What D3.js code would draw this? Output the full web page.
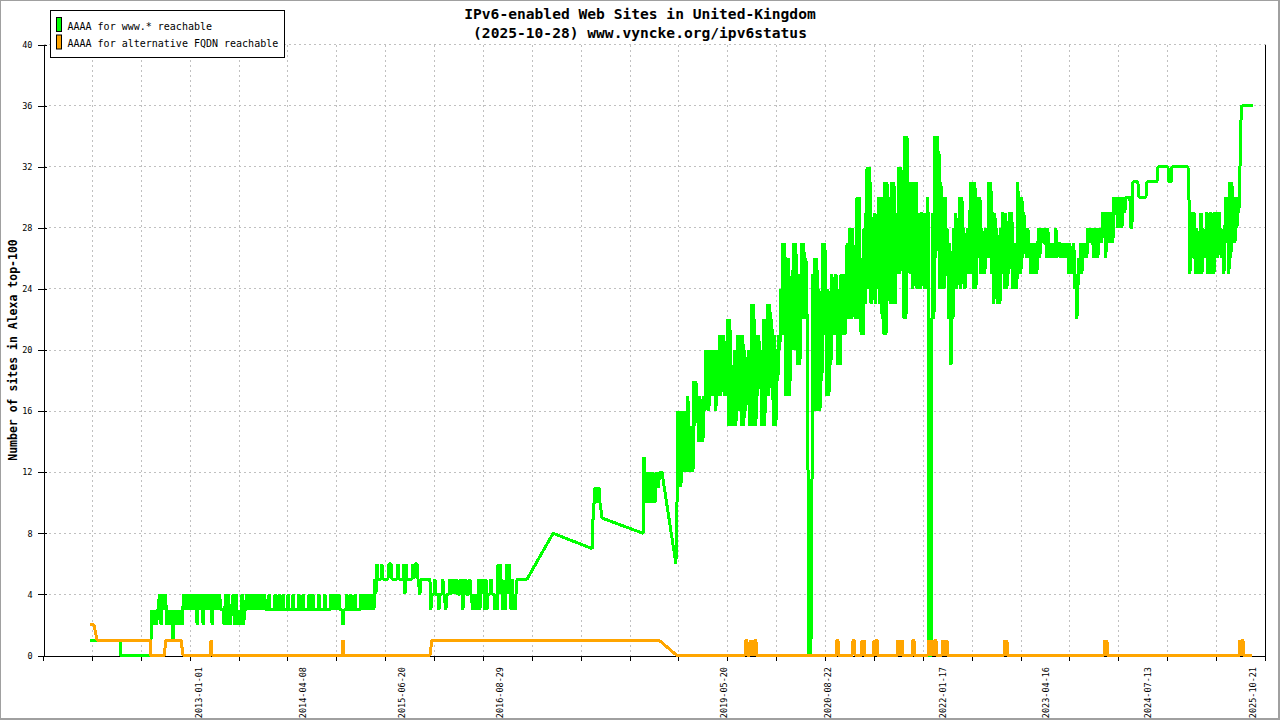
<!DOCTYPE html>
<html>
<head>
<meta charset="utf-8">
<script src="https://cdn.jsdelivr.net/npm/d3@7"></script>
<style>
body { margin: 0; background: #fff; }
svg { display: block; font-family: "DejaVu Sans Mono", monospace; }
</style>
</head>
<body>
<div id="chart"></div>
<script>
// values; dates are decimal years
var titleLines = ["IPv6-enabled Web Sites in United-Kingdom", "(2025-10-28) www.vyncke.org/ipv6status"];
var yTitle = "Number of sites in Alexa top-100";
var seriesNames = ["AAAA for www.* reachable", "AAAA for alternative FQDN reachable"];
var seriesColors = ["#00ff00", "#ffa500"];
var yTickValues = [0, 4, 8, 12, 16, 20, 24, 28, 32, 36, 40];
var dateLabels = ["2013-01-01", "2014-04-08", "2015-06-20", "2016-08-29", "2019-05-20",
                  "2020-08-22", "2022-01-17", "2023-04-16", "2024-07-13", "2025-10-21"];
var xStartYear = 2011.124, xEndYear = 2025.963, xTickCount = 26;

var wwwSites = [
  [2011.689,1],[2012.053,1],[2012.065,0],[2012.417,0],
  [2012.429,1],[2012.441,3],[2012.459,2],[2012.478,3],[2012.496,2],[2012.514,3],[2012.532,4],[2012.551,2],[2012.569,4],[2012.587,3],
  [2012.605,4],[2012.623,2],[2012.642,3],[2012.660,2],[2012.678,3],[2012.696,1],[2012.715,3],[2012.733,2],[2012.751,3],[2012.769,2],
  [2012.787,3],[2012.806,2],
  [2012.824,4],[2012.842,3],[2012.860,4],[2012.879,3],[2012.897,4],[2012.915,3],[2012.933,4],[2012.951,3],[2012.970,4],[2012.988,2],
  [2013.006,4],[2013.024,3],[2013.042,4],[2013.061,2],[2013.079,4],[2013.097,3],[2013.115,4],[2013.133,3],[2013.152,4],[2013.170,2],
  [2013.188,4],[2013.206,3],[2013.225,4],[2013.243,3],[2013.261,4],[2013.279,3],[2013.303,3],[2013.316,2],[2013.334,4],[2013.352,2],
  [2013.370,4],[2013.389,2],[2013.407,3],[2013.425,4],[2013.443,2],[2013.461,4],[2013.480,2],[2013.498,3],[2013.516,2],[2013.534,4],
  [2013.552,2],[2013.571,3],
  [2013.589,4],[2013.607,3],[2013.625,4],[2013.644,3],[2013.662,4],[2013.680,3],[2013.698,4],[2013.716,3],[2013.735,4],[2013.753,3],
  [2013.771,4],[2013.789,3],[2013.807,4],[2013.826,3],
  [2013.850,3],[2013.862,4],[2013.874,3],[2013.923,3],[2013.935,4],[2013.947,3],[2013.971,3],[2013.984,4],[2013.996,3],
  [2014.020,3],[2014.032,4],[2014.044,3],[2014.081,3],[2014.093,4],[2014.105,3],[2014.142,3],[2014.154,4],[2014.166,3],
  [2014.214,3],[2014.226,4],[2014.239,3],[2014.263,3],[2014.275,4],[2014.287,3],[2014.336,3],[2014.348,4],[2014.360,3],
  [2014.384,3],[2014.396,4],[2014.409,3],[2014.457,3],[2014.469,4],[2014.481,3],[2014.530,3],[2014.542,4],[2014.554,3],
  [2014.603,3],[2014.615,4],[2014.627,3],[2014.639,4],[2014.651,3],[2014.664,4],[2014.676,3],[2014.688,4],[2014.700,3],[2014.712,4],
  [2014.724,3],[2014.749,3],[2014.761,2],[2014.773,3],[2014.797,3],[2014.809,4],[2014.822,3],[2014.846,3],[2014.858,4],[2014.870,3],
  [2014.894,3],[2014.907,4],[2014.919,3],[2014.967,3],[2014.979,4],[2014.992,3],
  [2015.010,4],[2015.028,3],[2015.046,4],[2015.064,3],[2015.083,4],[2015.101,3],[2015.119,4],[2015.137,3],[2015.149,5],[2015.161,4],
  [2015.174,6],[2015.186,5],
  [2015.198,5],[2015.222,5],[2015.234,6],[2015.247,5],[2015.307,5],[2015.319,6],[2015.344,6],[2015.356,5],[2015.417,5],[2015.429,6],
  [2015.441,5],[2015.490,5],[2015.502,6],[2015.514,4],[2015.526,6],[2015.538,5],[2015.599,5],[2015.611,6],[2015.623,5],[2015.635,6],
  [2015.660,6],[2015.672,5],[2015.696,4],[2015.708,5],[2015.817,5],
  [2015.829,3],[2015.841,4],[2015.866,4],[2015.878,5],[2015.890,4],[2015.914,4],[2015.927,3],[2015.939,4],[2015.963,4],[2015.975,5],
  [2015.987,4],[2016.011,3],[2016.024,4],[2016.048,4],[2016.060,5],[2016.072,4],[2016.096,5],[2016.109,4],[2016.121,5],[2016.133,4],
  [2016.145,5],[2016.157,4],[2016.181,4],[2016.194,5],[2016.206,4],[2016.218,3],[2016.230,5],[2016.242,4],[2016.254,5],[2016.266,4],
  [2016.291,4],[2016.303,5],[2016.315,4],[2016.339,3],[2016.351,4],[2016.364,3],[2016.376,4],[2016.388,3],[2016.400,4],[2016.412,5],
  [2016.424,3],[2016.436,5],[2016.449,4],[2016.461,5],[2016.473,4],[2016.485,3],[2016.497,5],[2016.509,3],[2016.521,4],[2016.546,4],
  [2016.558,5],[2016.570,4],[2016.594,4],[2016.606,3],[2016.618,4],[2016.631,3],[2016.643,6],[2016.655,4],[2016.667,6],[2016.679,4],
  [2016.691,5],[2016.703,3],[2016.716,4],[2016.728,3],[2016.740,5],[2016.752,6],[2016.764,4],[2016.776,6],[2016.789,4],[2016.801,3],
  [2016.813,5],[2016.825,3],[2016.837,4],[2016.849,3],[2016.861,4],[2016.874,5],[2016.995,5],
  [2017.311,8],[2017.784,7],[2017.797,9],[2017.809,10],[2017.821,11],[2017.833,10],[2017.845,11],[2017.857,10],[2017.869,11],
  [2017.881,10],[2017.906,9],[2018.404,8],
  [2018.416,13],[2018.428,10],[2018.440,12],[2018.452,10],[2018.464,12],[2018.477,11],[2018.489,10],[2018.501,12],[2018.513,10],
  [2018.525,12],[2018.537,11],[2018.549,10],[2018.561,11],[2018.574,12],[2018.586,11],[2018.610,12],[2018.634,12],[2018.804,6],
  [2018.817,10],[2018.829,16],[2018.841,12],[2018.853,16],[2018.865,11],[2018.877,16],[2018.890,12],[2018.902,16],[2018.914,12],
  [2018.926,15],[2018.938,12],[2018.950,17],[2018.962,12],[2018.974,15],[2018.987,12],[2018.999,15],[2019.011,12],[2019.023,18],
  [2019.035,15],[2019.047,18],[2019.059,16],[2019.072,17],[2019.084,14],[2019.096,17],[2019.108,14],[2019.120,16],[2019.132,14],
  [2019.144,17],[2019.157,16],[2019.169,20],[2019.181,17],[2019.193,20],[2019.205,16],[2019.217,20],[2019.229,17],[2019.242,19],
  [2019.254,20],[2019.266,17],[2019.278,20],[2019.290,16],[2019.302,20],[2019.314,17],[2019.327,19],[2019.339,21],[2019.351,17],
  [2019.363,21],[2019.375,18],[2019.387,21],[2019.399,17],[2019.411,19],[2019.424,17],[2019.436,22],[2019.448,15],[2019.460,22],
  [2019.472,15],[2019.484,19],[2019.496,17],[2019.509,15],[2019.521,20],[2019.533,15],[2019.545,19],[2019.557,21],[2019.569,16],
  [2019.581,21],[2019.594,17],[2019.606,15],[2019.618,21],[2019.630,15],[2019.642,20],[2019.654,16],[2019.666,19],[2019.679,17],
  [2019.691,20],[2019.703,15],[2019.715,18],[2019.727,23],[2019.739,15],[2019.751,23],[2019.764,16],[2019.776,15],[2019.788,21],
  [2019.800,17],[2019.812,21],[2019.824,18],[2019.836,20],[2019.849,15],[2019.861,19],[2019.873,22],[2019.885,15],[2019.897,22],
  [2019.909,17],[2019.921,23],[2019.934,17],[2019.946,23],[2019.958,18],[2019.970,22],[2019.982,17],[2019.994,15],[2020.006,21],
  [2020.019,15],[2020.031,20],[2020.043,18],[2020.055,21],[2020.067,20],
  [2020.079,24],[2020.091,21],[2020.103,27],[2020.116,21],[2020.128,27],[2020.140,17],[2020.152,24],[2020.164,17],[2020.176,26],
  [2020.188,17],[2020.201,24],[2020.213,20],[2020.225,25],[2020.237,27],[2020.249,20],[2020.261,27],[2020.273,21],[2020.286,19],
  [2020.298,25],[2020.310,19],[2020.322,24],[2020.334,27],[2020.346,22],[2020.358,27],[2020.371,22],[2020.383,26],[2020.395,23],
  [2020.407,13],[2020.419,0],[2020.431,0],[2020.443,0],[2020.456,11],[2020.468,25],[2020.480,18],[2020.492,26],[2020.504,16],
  [2020.516,26],[2020.528,16],[2020.541,24],[2020.553,16],[2020.565,22],[2020.577,18],[2020.589,27],[2020.601,21],[2020.613,27],
  [2020.626,21],[2020.638,17],[2020.650,24],[2020.662,17],[2020.674,22],[2020.686,19],[2020.698,25],[2020.711,21],[2020.723,24],
  [2020.735,22],[2020.747,25],[2020.759,21],[2020.771,19],[2020.783,24],[2020.796,19],[2020.808,25],[2020.820,22],[2020.832,21],
  [2020.844,25],[2020.856,21],[2020.868,24],[2020.881,27],[2020.893,22],[2020.905,27],[2020.917,28],[2020.929,22],[2020.941,28],
  [2020.954,23],[2020.966,26],[2020.978,22],[2020.990,27],[2021.002,30],[2021.014,22],[2021.026,30],[2021.039,24],[2021.051,21],
  [2021.063,26],[2021.075,21],[2021.087,28],[2021.099,23],[2021.111,29],[2021.124,32],[2021.136,24],[2021.148,32],[2021.160,31],
  [2021.172,23],[2021.184,27],[2021.196,24],[2021.209,29],[2021.221,23],[2021.233,28],[2021.245,24],[2021.257,29],[2021.269,30],
  [2021.281,23],[2021.294,30],[2021.306,22],[2021.318,27],[2021.330,21],[2021.342,31],[2021.354,21],[2021.366,31],[2021.379,25],
  [2021.391,30],[2021.403,23],[2021.415,28],[2021.427,31],[2021.439,23],[2021.451,31],[2021.464,23],[2021.476,29],[2021.488,25],
  [2021.500,28],[2021.512,32],[2021.524,25],[2021.536,32],[2021.549,26],[2021.561,30],[2021.573,22],[2021.585,34],[2021.597,22],
  [2021.609,34],[2021.621,26],[2021.634,31],[2021.646,25],[2021.658,29],[2021.670,31],[2021.682,24],[2021.694,31],[2021.706,25],
  [2021.719,31],[2021.731,24],[2021.743,29],[2021.755,25],[2021.767,28],[2021.779,24],[2021.791,29],[2021.804,25],[2021.816,29],
  [2021.828,24],[2021.840,27],[2021.852,25],[2021.864,30],[2021.876,0],[2021.889,0],[2021.901,0],[2021.913,22],[2021.925,29],
  [2021.937,22],[2021.949,34],[2021.961,26],[2021.974,34],[2021.986,28],[2021.998,33],[2022.010,24],[2022.022,31],[2022.034,24],
  [2022.046,30],[2022.059,24],[2022.071,30],[2022.083,26],[2022.095,28],[2022.107,25],[2022.119,22],[2022.131,27],[2022.144,19],
  [2022.156,26],[2022.168,22],[2022.180,28],[2022.192,24],[2022.204,29],[2022.216,24],[2022.229,27],[2022.241,25],[2022.253,30],
  [2022.265,24],[2022.277,30],[2022.289,25],[2022.301,28],[2022.314,24],[2022.326,27],[2022.338,25],[2022.350,28],[2022.362,25],
  [2022.374,29],[2022.386,31],[2022.399,25],[2022.411,31],[2022.423,24],[2022.435,31],[2022.447,24],[2022.459,28],[2022.471,30],
  [2022.484,26],[2022.496,30],[2022.508,25],[2022.520,28],[2022.532,25],[2022.544,27],[2022.556,25],[2022.569,28],[2022.581,26],
  [2022.593,27],[2022.605,31],[2022.617,26],[2022.629,31],[2022.641,25],[2022.654,29],[2022.666,23],[2022.678,29],[2022.690,24],
  [2022.702,28],[2022.714,23],[2022.726,27],[2022.739,23],[2022.751,28],[2022.763,25],[2022.775,29],[2022.787,26],[2022.799,24],
  [2022.811,29],[2022.824,24],[2022.836,28],[2022.848,25],[2022.860,29],[2022.872,26],[2022.884,29],[2022.896,24],[2022.909,27],
  [2022.921,24],[2022.933,27],[2022.945,24],[2022.957,31],[2022.969,25],[2022.981,30],[2022.994,25],[2023.006,30],[2023.018,26],
  [2023.030,29],[2023.042,27],[2023.054,28],[2023.066,26],[2023.079,28],[2023.091,26],[2023.103,27],[2023.115,25],[2023.127,27],
  [2023.139,25],[2023.151,27],[2023.164,25],[2023.176,27],[2023.188,25],[2023.200,27],[2023.212,28],[2023.224,26],
  [2023.236,28],[2023.249,27],[2023.261,28],[2023.273,27],[2023.285,27],[2023.297,28],[2023.309,26],[2023.321,28],[2023.334,26],
  [2023.346,27],[2023.358,26],[2023.370,27],[2023.382,26],[2023.394,27],[2023.406,26],[2023.419,28],[2023.431,26],[2023.443,27],
  [2023.455,27],[2023.467,27],[2023.479,26],[2023.491,27],[2023.504,26],[2023.516,27],[2023.528,26],[2023.540,27],[2023.552,26],
  [2023.564,27],[2023.576,25],[2023.589,27],[2023.601,25],[2023.613,26],[2023.625,25],[2023.637,27],[2023.649,24],[2023.661,25],
  [2023.674,22],[2023.686,24],[2023.698,26],[2023.710,25],[2023.722,27],[2023.734,25],[2023.746,26],[2023.759,27],[2023.771,26],
  [2023.783,27],[2023.795,26],[2023.807,28],[2023.819,27],[2023.831,28],[2023.844,27],[2023.856,28],[2023.868,27],[2023.880,26],
  [2023.892,28],[2023.904,26],[2023.916,28],[2023.929,26],[2023.941,28],[2023.953,27],[2023.965,28],[2023.977,27],[2023.989,29],
  [2024.001,28],[2024.014,29],[2024.026,26],[2024.038,29],[2024.050,27],[2024.062,28],[2024.074,29],[2024.086,27],[2024.099,29],
  [2024.111,27],[2024.123,30],[2024.135,29],[2024.147,30],[2024.159,29],[2024.171,28],[2024.184,30],[2024.196,28],[2024.208,30],
  [2024.220,28],[2024.232,29],[2024.244,30],[2024.256,29],[2024.268,30],[2024.317,30],[2024.329,28],[2024.341,28],[2024.353,31],
  [2024.414,31],[2024.426,30],[2024.511,30],[2024.523,31],[2024.645,31],[2024.657,32],[2024.778,32],[2024.790,31],[2024.815,31],
  [2024.827,32],[2025.021,32],
  [2025.033,30],[2025.045,25],[2025.057,28],[2025.069,29],[2025.082,26],[2025.094,29],[2025.106,26],[2025.118,25],[2025.130,28],
  [2025.142,25],[2025.155,27],[2025.167,25],[2025.179,29],[2025.191,25],[2025.203,28],[2025.215,26],[2025.228,27],[2025.240,26],
  [2025.252,29],[2025.264,25],[2025.276,29],[2025.288,25],[2025.300,29],[2025.313,25],[2025.325,29],[2025.337,25],[2025.349,29],
  [2025.361,27],[2025.373,29],[2025.385,26],[2025.398,29],[2025.410,27],[2025.422,28],[2025.434,26],[2025.446,27],[2025.458,25],
  [2025.470,28],[2025.483,30],[2025.495,27],[2025.507,30],[2025.519,25],[2025.531,31],[2025.543,26],[2025.555,31],[2025.568,28],
  [2025.580,29],[2025.592,27],[2025.604,30],[2025.616,28],[2025.628,30],[2025.640,29],[2025.653,32],[2025.665,35],[2025.677,36],
  [2025.811,36]
];

var altSites = [
  [2011.689,2],[2011.737,2],[2011.774,1],[2012.417,1],[2012.429,0],[2012.587,0],[2012.611,1],[2012.793,1],[2012.818,0],
  [2013.146,0],[2013.158,1],[2013.170,0],[2014.749,0],[2014.761,1],[2014.773,0],[2015.817,0],[2015.841,1],[2018.598,1],
  [2018.817,0],
  [2019.642,0],[2019.654,1],[2019.666,1],[2019.679,0],
  [2019.703,0],[2019.715,1],[2019.727,0],[2019.739,1],[2019.751,0],[2019.764,1],[2019.776,1],[2019.788,0],
  [2020.747,0],[2020.759,1],[2020.771,1],[2020.783,0],
  [2020.941,0],[2020.954,1],[2020.966,1],[2020.978,0],
  [2021.051,0],[2021.063,1],[2021.075,0],[2021.087,1],[2021.099,0],
  [2021.197,0],[2021.209,1],[2021.221,0],[2021.233,1],[2021.245,1],[2021.257,0],
  [2021.488,0],[2021.500,1],[2021.512,0],[2021.524,1],[2021.536,0],[2021.549,1],[2021.561,0],
  [2021.670,0],[2021.682,1],[2021.694,1],[2021.706,0],
  [2021.864,0],[2021.876,1],[2021.889,0],[2021.901,1],[2021.913,0],[2021.925,1],[2021.937,0],[2021.949,1],[2021.961,1],[2021.973,0],
  [2022.034,0],[2022.046,1],[2022.059,0],[2022.071,1],[2022.083,0],[2022.095,1],[2022.107,0],
  [2022.787,0],[2022.799,1],[2022.811,0],[2022.823,1],[2022.836,0],
  [2024.002,0],[2024.014,1],[2024.026,0],[2024.038,1],[2024.050,0],
  [2025.641,0],[2025.653,1],[2025.665,0],[2025.677,1],[2025.689,1],[2025.701,0],
  [2025.798,0]
];

function fromYear(v) {
    var y0 = Math.floor(v);
    var a = Date.UTC(y0, 0, 1), b = Date.UTC(y0 + 1, 0, 1);
    return new Date(a + (v - y0) * (b - a));
}

var width = 1280, height = 720;
var plot = {left: 43.5, right: 1265.5, top: 44.5, bottom: 655.5};

var x = d3.scaleTime()
    .domain([fromYear(xStartYear), fromYear(xEndYear)])
    .range([plot.left, plot.right]);
var y = d3.scaleLinear()
    .domain([0, 40])
    .range([plot.bottom, plot.top]);

var xTicks = d3.range(xTickCount).map(function(i) {
    return fromYear(xStartYear + i * (xEndYear - xStartYear) / (xTickCount - 1));
});
var parseDay = d3.utcParse("%Y-%m-%d");

var svg = d3.select("#chart").append("svg")
    .attr("width", width)
    .attr("height", height);

svg.append("rect")
    .attr("x", 0).attr("y", 0)
    .attr("width", width - 1).attr("height", height - 1)
    .attr("fill", "#fff")
    .attr("stroke", "#a0a0a0")
    .attr("stroke-width", 2);

// grid
var grid = svg.append("g").attr("shape-rendering", "crispEdges")
    .attr("stroke", "#c0c0c0").attr("stroke-dasharray", "2,3");
grid.selectAll(".hg")
    .data(yTickValues.filter(function(d) { return d > 0; }))
    .enter().append("line")
    .attr("x1", plot.left).attr("x2", plot.right)
    .attr("y1", function(d) { return y(d); })
    .attr("y2", function(d) { return y(d); });
grid.selectAll(".vg")
    .data(xTicks.slice(1, -1))
    .enter().append("line")
    .attr("x1", function(d) { return Math.round(x(d) - 0.5) + 0.5; })
    .attr("x2", function(d) { return Math.round(x(d) - 0.5) + 0.5; })
    .attr("y1", plot.top).attr("y2", plot.bottom);

// axes
var yAxis = svg.append("g")
    .attr("transform", "translate(" + plot.left + ",0)")
    .attr("shape-rendering", "crispEdges")
    .call(d3.axisLeft(y).tickValues(yTickValues).tickSizeInner(6).tickSizeOuter(0).tickPadding(5));
yAxis.selectAll(".tick line").attr("x1", 3);
yAxis.selectAll("text")
    .style("font-family", "'DejaVu Sans Mono', monospace")
    .style("font-size", "8.5px")
    .attr("fill", "#000");

var xAxis = svg.append("g")
    .attr("transform", "translate(0," + plot.bottom + ")")
    .attr("shape-rendering", "crispEdges")
    .call(d3.axisBottom(x).tickValues(xTicks).tickSize(5).tickSizeOuter(0).tickFormat(""));
xAxis.selectAll(".tick line").attr("transform", "translate(-0.5,0)");

svg.append("line")
    .attr("shape-rendering", "crispEdges")
    .attr("x1", plot.right).attr("x2", plot.right)
    .attr("y1", plot.top).attr("y2", plot.bottom)
    .attr("stroke", "#000");

svg.append("g").selectAll("text")
    .data(dateLabels)
    .enter().append("text")
    .attr("transform", function(d) {
        return "translate(" + (x(parseDay(d)) + 3.5) + ",667) rotate(-90)";
    })
    .attr("text-anchor", "end")
    .style("font-size", "8.5px")
    .text(function(d) { return d; });

// series
var line = d3.line()
    .x(function(d) { return x(fromYear(d[0])); })
    .y(function(d) { return y(d[1]); });

[wwwSites, altSites].forEach(function(s, i) {
    svg.append("path")
        .datum(s)
        .attr("d", line)
        .attr("fill", "none")
        .attr("stroke", seriesColors[i])
        .attr("stroke-width", 3)
        .attr("stroke-linejoin", "bevel")
        .attr("shape-rendering", "crispEdges");
});

// titles
svg.append("g").selectAll("text")
    .data(titleLines)
    .enter().append("text")
    .attr("x", 640)
    .attr("y", function(d, i) { return 19 + i * 18.5; })
    .attr("text-anchor", "middle")
    .style("font-size", "14.6px")
    .style("font-weight", "bold")
    .text(function(d) { return d; });

svg.append("text")
    .attr("transform", "translate(16.5," + ((plot.top + plot.bottom) / 2) + ") rotate(-90)")
    .attr("text-anchor", "middle")
    .style("font-size", "11.5px")
    .style("font-weight", "bold")
    .text(yTitle);

// legend
var legend = svg.append("g").attr("class", "legend");
legend.append("rect")
    .attr("x", 50.5).attr("y", 10.5)
    .attr("width", 234).attr("height", 47)
    .attr("fill", "#fff")
    .attr("stroke", "#000");
legend.selectAll("g")
    .data(seriesNames)
    .enter().append("g")
    .each(function(d, i) {
        var g = d3.select(this);
        g.append("rect")
            .attr("x", 56.5).attr("y", 17.5 + i * 17.5)
            .attr("width", 5).attr("height", 14)
            .attr("fill", seriesColors[i])
            .attr("stroke", "#000");
        g.append("text")
            .attr("x", 67.5).attr("y", 29.5 + i * 17.5)
            .style("font-size", "10px")
            .text(d);
    });
</script>
</body>
</html>
